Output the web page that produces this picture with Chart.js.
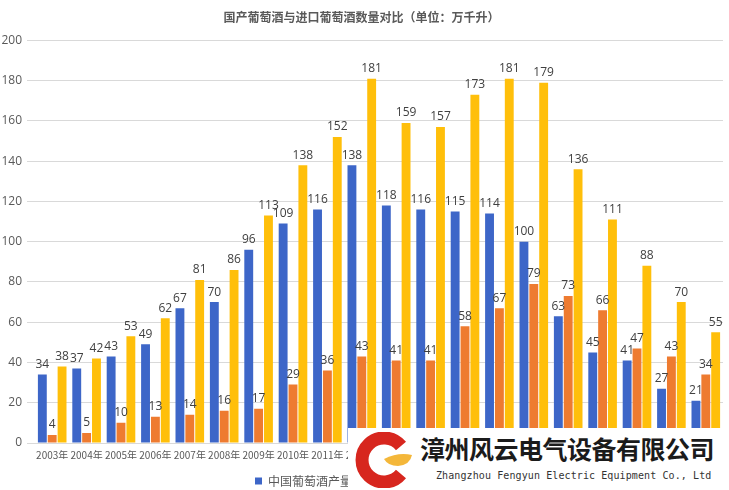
<!DOCTYPE html>
<html>
<head>
<meta charset="utf-8">
<script src="https://cdn.jsdelivr.net/npm/chart.js@4/dist/chart.umd.min.js"></script>
<style>
  html, body { margin: 0; padding: 0; background: #fff; }
  #wrap { position: relative; width: 729px; height: 490px; }
  #mark {
    position: absolute; left: 348px; top: 428px; width: 381px; height: 62px;
    background: #fff;
  }
  #mark svg { position: absolute; left: 6px; top: 4px; }
  #mark .cn {
    position: absolute; left: 72px; top: 2px; white-space: nowrap;
    font: bold 25px "Noto Sans CJK SC", sans-serif; color: #1b1b1b; letter-spacing: -0.5px;
  }
  #mark .en {
    position: absolute; left: 88px; top: 42px; white-space: nowrap;
    font: 10px "DejaVu Sans Mono", monospace; color: #333; letter-spacing: 0.1px;
  }
</style>
</head>
<body>
<div id="wrap">
  <canvas id="barChart" width="729" height="490"></canvas>
  <div id="mark">
    <svg width="64" height="56" viewBox="0 0 64 56">
      <path d="M47 14 A22 22 0 1 0 47 42" fill="none" stroke="#d7261e" stroke-width="13"/>
      <path d="M30 27 Q44 20 58 23 Q56 33 44 34 Q34 34 30 27 Z" fill="#f4b73a"/>
    </svg>
    <div class="cn">漳州风云电气设备有限公司</div>
    <div class="en">Zhangzhou Fengyun Electric Equipment Co., Ltd</div>
  </div>
</div>
<script>
const years = ['2003年', '2004年', '2005年', '2006年', '2007年', '2008年', '2009年', '2010年', '2011年', '2012年',
    '2013年', '2014年', '2015年', '2016年', '2017年', '2018年', '2019年', '2020年', '2021年', '2022年'];
const domestic = [34, 37, 43, 49, 67, 70, 96, 109, 116, 138, 118, 116, 115, 114, 100, 63, 45, 41, 27, 21];
const imported = [4, 5, 10, 13, 14, 16, 17, 29, 36, 43, 41, 41, 58, 67, 79, 73, 66, 47, 43, 34];
const total = [38, 42, 53, 62, 81, 86, 113, 138, 152, 181, 159, 157, 173, 181, 179, 136, 111, 88, 70, 55];

// value labels above each bar
const barLabels = {
    id: 'barLabels',
    afterDatasetsDraw(chart) {
        const ctx = chart.ctx;
        ctx.save();
        ctx.font = '12px "Open Sans", sans-serif';
        ctx.fillStyle = '#404040';
        ctx.textAlign = 'center';
        ctx.textBaseline = 'bottom';
        chart.data.datasets.forEach((ds, i) => {
            chart.getDatasetMeta(i).data.forEach((bar, j) => {
                ctx.fillText(ds.data[j], bar.x, bar.y - 4);
            });
        });
        ctx.restore();
    }
};

// nudge the legend a little lower, closer to the bottom edge
const legendShift = {
    id: 'legendShift',
    afterLayout(chart) {
        chart.legend.top += 13;
        chart.legend.bottom += 13;
    }
};

new Chart(document.getElementById('barChart'), {
    type: 'bar',
    data: {
        labels: years,
        datasets: [
            { label: '中国葡萄酒产量', data: domestic, backgroundColor: '#3d66c8' },
            { label: '进口葡萄酒', data: imported, backgroundColor: '#ee7b30' },
            { label: '合计', data: total, backgroundColor: '#ffbf0a' }
        ]
    },
    options: {
        responsive: false,
        animation: false,
        layout: { padding: { left: 0, right: 6, top: 0, bottom: 6 } },
        datasets: { bar: { categoryPercentage: 0.86, barPercentage: 0.9 } },
        plugins: {
            title: {
                display: true,
                text: '国产葡萄酒与进口葡萄酒数量对比（单位：万千升）',
                color: '#595959',
                font: { size: 12, weight: 'bold', family: '"Noto Sans CJK SC", sans-serif' },
                padding: { top: 10, bottom: 16 }
            },
            legend: {
                position: 'bottom',
                labels: {
                    boxWidth: 7, boxHeight: 7, color: '#595959', padding: 3,
                    font: { size: 12, family: '"Noto Sans CJK SC", sans-serif' }
                }
            },
            tooltip: { enabled: false }
        },
        scales: {
            x: {
                grid: { display: false },
                border: { color: '#d9d9d9' },
                ticks: { color: '#595959', font: { size: 10, family: '"Noto Sans CJK SC", sans-serif' }, maxRotation: 0, autoSkip: false, padding: -2 }
            },
            y: {
                min: 0, max: 200,
                ticks: { stepSize: 20, color: '#595959', font: { size: 12, family: '"Open Sans", sans-serif' }, padding: 5 },
                grid: { color: '#d9d9d9' },
                border: { display: false },
                afterFit(scale) { scale.width = 35; }
            }
        }
    },
    plugins: [barLabels, legendShift]
});
</script>
</body>
</html>
